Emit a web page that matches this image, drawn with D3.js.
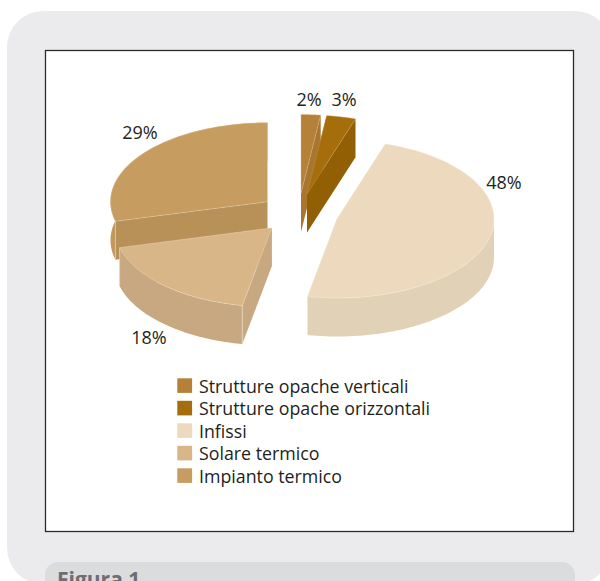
<!DOCTYPE html>
<html>
<head>
<meta charset="utf-8">
<script src="https://cdn.jsdelivr.net/npm/d3@7/dist/d3.min.js"></script>
<style>
html, body { margin: 0; padding: 0; background: #fff; }
svg { display: block; }
text { font-family: "Open Sans", "Noto Sans", sans-serif; fill: #231f20; }
</style>
</head>
<body>
<svg id="chart" width="600" height="581"></svg>
<script>
// Chart values
const categories = ["Strutture opache verticali", "Strutture opache orizzontali", "Infissi", "Solare termico", "Impianto termico"];
const shares = [2, 3, 48, 18, 29];
const valueLabels = ["2%", "3%", "48%", "18%", "29%"];

// Styling per slice: top face, outer wall, cut wall, pale edge
const topColors = ["#b58138", "#a66d0c", "#edd9bd", "#d9b688", "#c79c60"];
const wallColors = ["#a9752f", "#935f04", "#e1d1b6", "#c8a880", "#c2985c"];
const cutColors = ["#a9752f", "#935f04", "#e1d1b6", "#c8a880", "#b89158"];
const rimColors = ["#d9b98a", "#c9a25e", "#f5ecdd", "#efe0c8", "#e6d3b0"];

// Exploded pie layout: each slice has its own centre on the page
const centres = [[301, 193.5], [307, 194], [337, 219], [271.7, 228], [267.5, 201.7]];
const labelAnchors = [[309, 106], [344, 106], [504, 189], [149, 344], [140, 139]];
const paintOrder = [0, 1, 4, 3, 2];
const radiusX = 157, radiusY = 79, depth = 38.5;

const svg = d3.select("#chart");

// Grey page panel, plot frame and caption tab
svg.append("rect").attr("x", 7).attr("y", 11).attr("width", 604).attr("height", 573).attr("rx", 36).attr("fill", "#ebebed");
svg.append("rect").attr("x", 45.5).attr("y", 50.5).attr("width", 528).attr("height", 481).attr("fill", "#fff").attr("stroke", "#2b2b2b").attr("stroke-width", 1.3);
svg.append("rect").attr("x", 45).attr("y", 562).attr("width", 530).attr("height", 60).attr("rx", 13).attr("fill", "#dbdcde");
svg.append("text").attr("x", 57).attr("y", 587).attr("font-size", 21).attr("font-weight", 700).style("fill", "#6d6e71").text("Figura 1");

// Slice angles, clockwise from twelve o'clock in the given order
const arcs = d3.pie().sort(null).value(d => d)(shares);
const scaleX = d3.scaleLinear().domain([-1, 1]).range([-radiusX, radiusX]);
const scaleY = d3.scaleLinear().domain([-1, 1]).range([radiusY, -radiusY]);
const path = d3.line();

const rimPoint = (a, c, dz = 0) => [c[0] + scaleX(Math.sin(a)), c[1] + scaleY(Math.cos(a)) + dz];
const rimPoints = (a0, a1, c, dz = 0) => d3.range(0, 61).map(k => rimPoint(a0 + (a1 - a0) * k / 60, c, dz));

const pie = svg.append("g");
paintOrder.forEach(i => {
  const d = arcs[i], c = centres[i];
  const g = pie.append("g");
  const a0 = d.startAngle, a1 = d.endAngle;
  const bottomCentre = [c[0], c[1] + depth];

  // Curved outer wall; the rim above three o'clock faces away from the viewer
  const wallStart = Math.max(a0, Math.PI / 2);
  if (a1 > wallStart) {
    const outer = rimPoints(wallStart, a1, c).concat(rimPoints(a1, wallStart, c, depth));
    g.append("path").attr("d", path(outer) + "Z").attr("fill", wallColors[i]);
  }

  // Flat walls along the two cuts, with a pale line down each front corner
  [a0, a1].forEach(a => {
    g.append("path")
      .attr("d", path([c, rimPoint(a, c), rimPoint(a, c, depth), bottomCentre]) + "Z")
      .attr("fill", cutColors[i]);
    if (a >= Math.PI / 2 && a <= 3 * Math.PI / 2) {
      g.append("path")
        .attr("d", path([rimPoint(a, c), rimPoint(a, c, depth)]))
        .attr("fill", "none")
        .attr("stroke", rimColors[i])
        .attr("stroke-width", 0.6);
    }
  });

  // Top face with its pale edge
  g.append("path")
    .attr("d", path([c].concat(rimPoints(a0, a1, c))) + "Z")
    .attr("fill", topColors[i])
    .attr("stroke", rimColors[i])
    .attr("stroke-width", 0.4);
});

// Percentage labels
svg.append("g").selectAll("text").data(valueLabels).join("text")
  .attr("x", (d, i) => labelAnchors[i][0])
  .attr("y", (d, i) => labelAnchors[i][1])
  .attr("text-anchor", "middle")
  .attr("font-size", 18)
  .text(d => d);

// Legend
const legendRow = d3.scalePoint().domain(categories).range([385.7, 475.7]);
const legend = svg.append("g").selectAll("g").data(categories).join("g")
  .attr("transform", d => `translate(177.3,${legendRow(d)})`);
legend.append("rect").attr("x", 0).attr("y", -7.4).attr("width", 14.8).attr("height", 14.6).attr("fill", (d, i) => topColors[i]);
legend.append("text").attr("x", 21.7).attr("y", 7).attr("font-size", 17.8).text(d => d);
</script>
</body>
</html>
